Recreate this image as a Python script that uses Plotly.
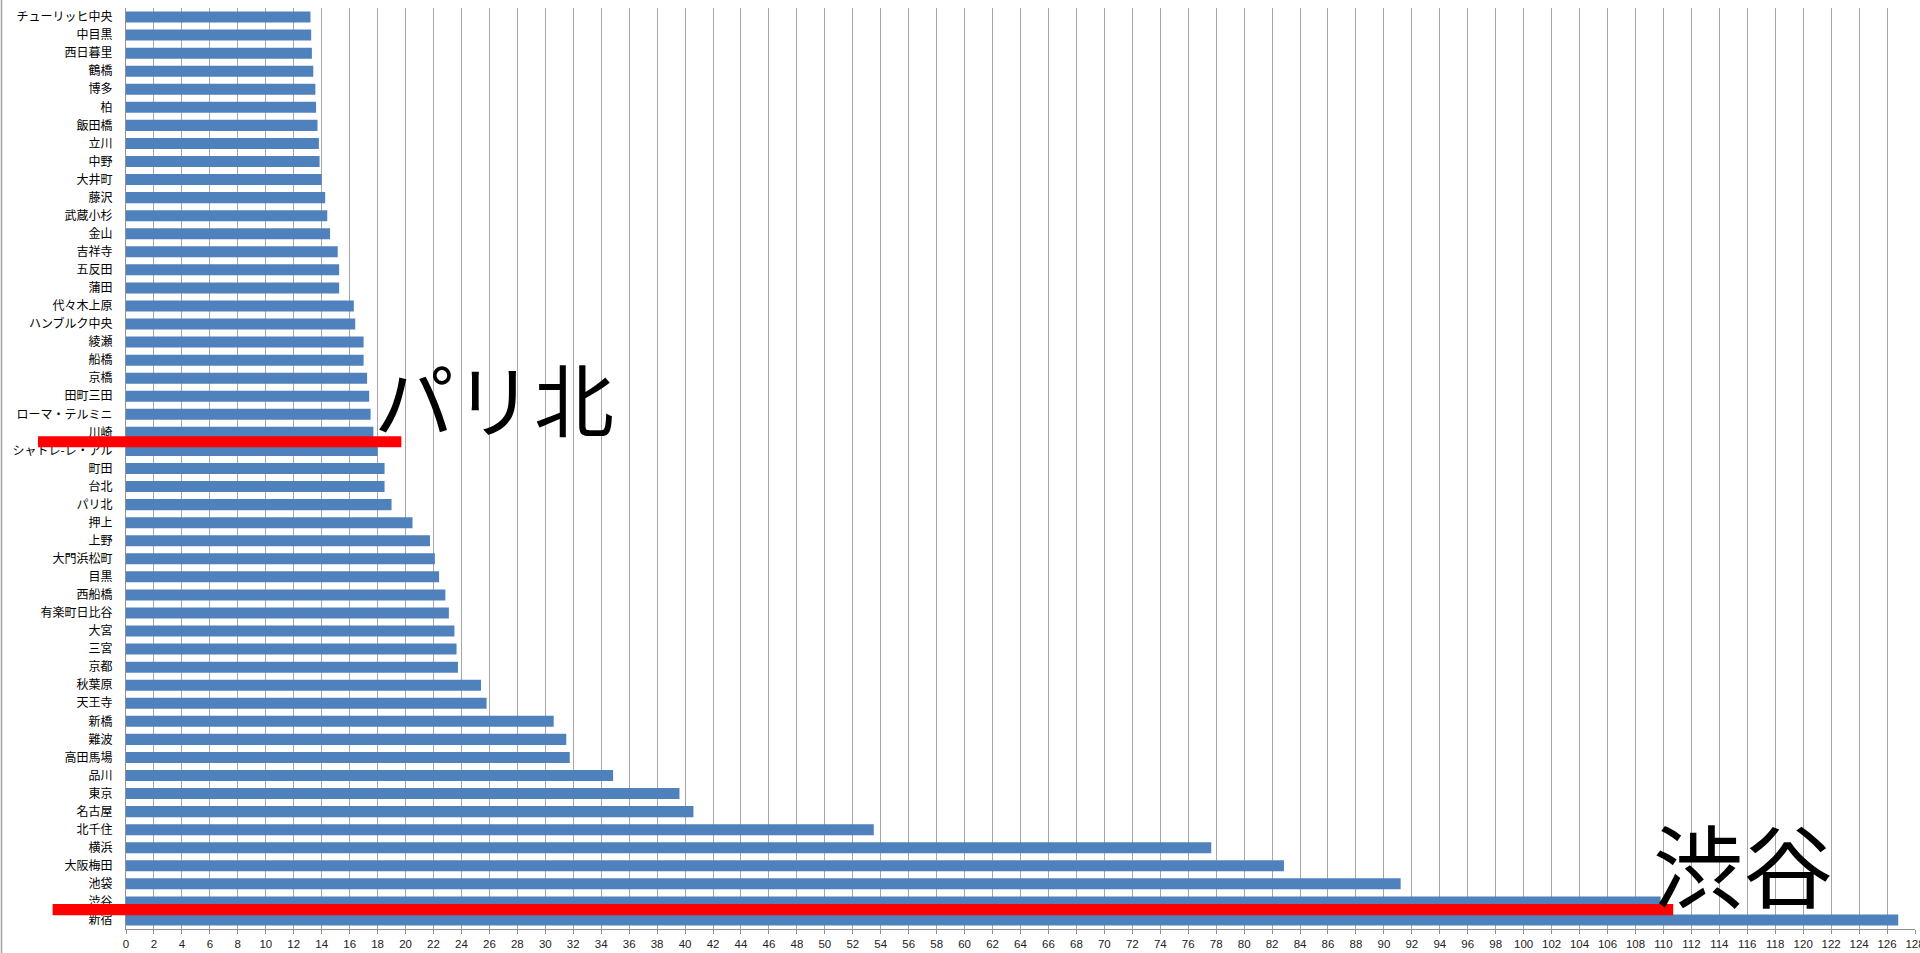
import plotly.graph_objects as go

# ---- data (top to bottom) ----
stations = [
    "チューリッヒ中央", "中目黒", "西日暮里", "鶴橋", "博多", "柏", "飯田橋", "立川", "中野", "大井町",
    "藤沢", "武蔵小杉", "金山", "吉祥寺", "五反田", "蒲田", "代々木上原", "ハンブルク中央", "綾瀬", "船橋",
    "京橋", "田町三田", "ローマ・テルミニ", "川崎", "シャトレ-レ・アル", "町田", "台北", "パリ北", "押上", "上野",
    "大門浜松町", "目黒", "西船橋", "有楽町日比谷", "大宮", "三宮", "京都", "秋葉原", "天王寺", "新橋",
    "難波", "高田馬場", "品川", "東京", "名古屋", "北千住", "横浜", "大阪梅田", "池袋", "渋谷", "新宿",
]
values = [
    13.2, 13.25, 13.3, 13.4, 13.55, 13.6, 13.7, 13.8, 13.85, 14.0,
    14.25, 14.4, 14.6, 15.15, 15.25, 15.25, 16.3, 16.4, 17.0, 17.0,
    17.25, 17.4, 17.5, 17.7, 18.0, 18.5, 18.5, 19.0, 20.5, 21.75,
    22.1, 22.4, 22.85, 23.1, 23.5, 23.65, 23.75, 25.4, 25.8, 30.6,
    31.5, 31.75, 34.85, 39.6, 40.6, 53.5, 77.65, 82.85, 91.2, 109.8, 126.8,
]
x_ticks = list(range(0, 129, 2))
X_MAX = 128

# overlay highlights
highlight_labels = ["パリ北", "渋谷"]
highlight_font_size = [80, 90]
highlight_text_x = [17.6, 109.1]
highlight_text_y = [21.0, 46.8]
highlight_line_start = [-6.3, -5.25]
highlight_line_end = [19.7, 110.7]
highlight_line_y = [23.52, 49.43]

# ---- layout geometry ----
W, H = 1920, 953
ML, MR, MT, MB = 126, 5, 8, 24
plot_w = W - ML - MR

fig = go.Figure(
    go.Bar(
        x=values,
        y=stations,
        orientation="h",
        marker=dict(color="#4f81bd", line=dict(width=0)),
        hoverinfo="x+y",
    )
)

shapes = []
for s, e, yc in zip(highlight_line_start, highlight_line_end, highlight_line_y):
    shapes.append(dict(
        type="rect", xref="paper", yref="y",
        x0=s / X_MAX, x1=e / X_MAX, y0=yc - 0.31, y1=yc + 0.31,
        fillcolor="#ff0000", line=dict(width=0), layer="above",
    ))
# outer left border of the chart area
shapes.append(dict(
    type="line", xref="paper", yref="paper",
    x0=(1.5 - ML) / plot_w, x1=(1.5 - ML) / plot_w, y0=-MB / (H - MT - MB), y1=1 + MT / (H - MT - MB),
    line=dict(color="#a0a0a0", width=1.5),
))

annotations = []
for t, fs, tx, ty in zip(highlight_labels, highlight_font_size, highlight_text_x, highlight_text_y):
    annotations.append(dict(
        text=t, x=tx, y=ty, xref="x", yref="y",
        xanchor="left", yanchor="middle", showarrow=False,
        font=dict(family="Noto Sans CJK JP", size=fs, color="#000000"),
    ))

fig.update_layout(
    width=W, height=H,
    margin=dict(l=ML, r=MR, t=MT, b=MB, pad=0, autoexpand=False),
    paper_bgcolor="#ffffff", plot_bgcolor="#ffffff",
    bargap=0.39,
    showlegend=False,
    shapes=shapes,
    annotations=annotations,
    font=dict(family="Noto Sans CJK JP", color="#000000"),
)
fig.update_xaxes(
    range=[0, X_MAX], automargin=False,
    tickmode="array", tickvals=x_ticks, ticktext=[str(v) for v in x_ticks],
    showgrid=True, gridcolor="#a6a6a6", gridwidth=1,
    showline=True, linecolor="#909090", linewidth=1,
    ticks="outside", ticklen=4, tickcolor="#909090",
    tickfont=dict(family="Liberation Sans", size=11.5, color="#222222"),
    ticklabeloverflow="allow",
    zeroline=False,
)
fig.update_yaxes(
    type="category", automargin=False,
    categoryorder="array", categoryarray=stations,
    range=[len(stations) - 0.5, -0.5],
    showgrid=False,
    showline=True, linecolor="#909090", linewidth=1,
    ticks="", ticklabelstandoff=10,
    tickfont=dict(family="Noto Sans CJK JP", size=12, color="#000000"),
)

fig.write_html(
    "out.html",
    config={"displayModeBar": False},
    post_script="document.body.style.margin='0';document.body.style.overflow='hidden';",
)
